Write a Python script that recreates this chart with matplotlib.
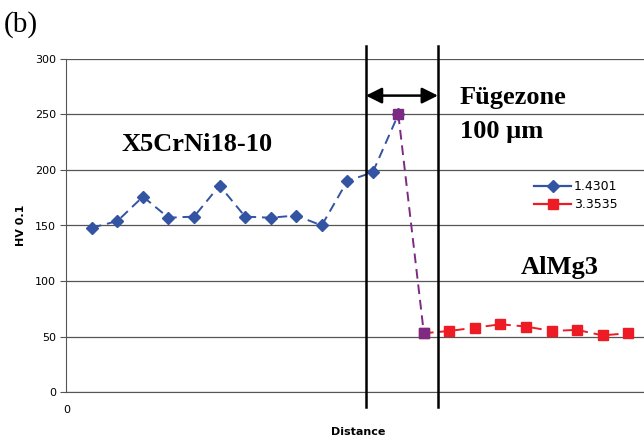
import numpy as np
import matplotlib.pyplot as plt
from matplotlib.lines import Line2D

# Haerteverlauf ueber die Fuegezone
x_st = [1, 2, 3, 4, 5, 6, 7, 8, 9, 10, 11, 12, 13]
hv_st = [148, 154, 176, 157, 158, 186, 158, 157, 159, 150, 190, 198, 250]
x_fz = [13, 14]
hv_fz = [250, 53]
x_al = [14, 15, 16, 17, 18, 19, 20, 21, 22]
hv_al = [53, 55, 58, 61, 59, 55, 56, 51, 53]
zone = [11.73, 14.55]  # Grenzen der Fuegezone

BLUE = '#3353a3'
RED = '#ed1c24'
PURPLE = '#7d2a82'

fig = plt.figure(figsize=(6.44, 4.4), dpi=100)
ax = fig.add_axes([0.103, 0.109, 0.897, 0.757])

ax.grid(axis='y', color='#555555', lw=0.9)
ax.set_axisbelow(True)

ax.plot(x_st, hv_st, color=BLUE, ls=(0, (5, 3)), lw=1.4, marker='D', ms=6, zorder=3)
ax.plot(x_al, hv_al, color=RED, ls=(0, (5, 3)), lw=1.4, marker='s', ms=7, zorder=3)
ax.plot(x_fz, hv_fz, color=PURPLE, ls=(0, (5, 3)), lw=1.4, marker='s', ms=7, zorder=4)

# Linien der Fuegezone (ueber die Achsen hinaus)
for xv in zone:
    ax.plot([xv, xv], [-13.5, 312], color='black', lw=1.8, clip_on=False, zorder=5)
ax.annotate('', xy=(zone[0], 267), xytext=(zone[1], 267),
            arrowprops=dict(arrowstyle='<|-|>', color='black', lw=1.8,
                            mutation_scale=24, shrinkA=0, shrinkB=0), zorder=5)

serif = dict(fontsize=19, fontweight='bold', fontname='Liberation Serif', va='center')
ax.text(5.1, 223, 'X5CrNi18-10', ha='center', **serif)
ax.text(15.4, 265, 'Fügezone', ha='left', **serif)
ax.text(15.4, 235, '100 µm', ha='left', **serif)
ax.text(19.3, 112, 'AlMg3', ha='center', **serif)

handles = [Line2D([], [], color=BLUE, lw=1.6, marker='D', ms=6),
           Line2D([], [], color=RED, lw=1.6, marker='s', ms=7)]
ax.legend(handles, ['1.4301', '3.3535'], loc='upper left', bbox_to_anchor=(0.79, 0.67),
          frameon=False, fontsize=9, handlelength=3.0, handletextpad=0.2, labelspacing=0.4)

ax.set_xlim(0, 22.62)
ax.set_ylim(0, 300)
ax.set_yticks(np.arange(0, 301, 50))
ax.set_xticks([0])
ax.tick_params(axis='y', labelsize=8, length=4, color='#555555')
ax.tick_params(axis='x', labelsize=8, length=0, pad=9)
ax.spines['top'].set_visible(False)
ax.spines['right'].set_visible(False)
ax.spines['left'].set_color('#555555')
ax.spines['bottom'].set_color('#555555')

ax.set_xlabel('Distance', fontsize=8, fontweight='bold', labelpad=9)
ax.xaxis.set_label_coords(0.505, -0.105)
ax.set_ylabel('HV 0.1', fontsize=8, fontweight='bold')
ax.yaxis.set_label_coords(-0.07, 0.5)

fig.text(0.006, 0.945, '(b)', fontsize=21, fontname='Liberation Serif', va='center')

plt.savefig('out.png', dpi=100)
